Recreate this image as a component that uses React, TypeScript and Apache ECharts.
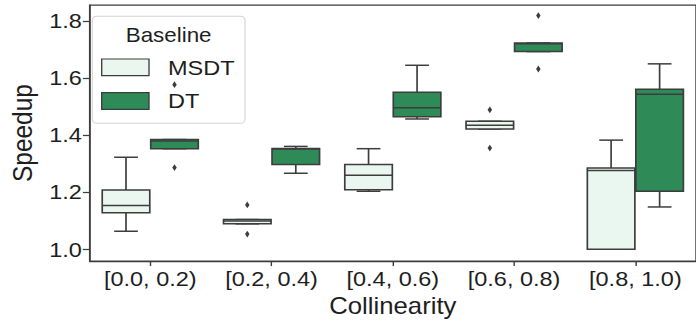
import React, { useEffect, useRef } from 'react';
import * as echarts from 'echarts';

// Collinearity bins on the x axis
const categories = ['[0.0, 0.2)', '[0.2, 0.4)', '[0.4, 0.6)', '[0.6, 0.8)', '[0.8, 1.0)'];
const seriesNames = ['MSDT', 'DT'];

// Five-number summaries per bin: [lower whisker, Q1, median, Q3, upper whisker]
const msdtBoxes = [
  [1.064, 1.129, 1.154, 1.208, 1.323],
  [1.090, 1.090, 1.100, 1.105, 1.105],
  [1.204, 1.209, 1.260, 1.298, 1.353],
  [1.422, 1.422, 1.435, 1.449, 1.449],
  [1.001, 1.001, 1.277, 1.285, 1.383],
];
const dtBoxes = [
  [1.353, 1.353, 1.380, 1.385, 1.385],
  [1.267, 1.298, 1.352, 1.354, 1.361],
  [1.457, 1.465, 1.496, 1.551, 1.645],
  [1.693, 1.693, 1.720, 1.723, 1.723],
  [1.149, 1.204, 1.544, 1.561, 1.650],
];

// Outliers: [bin index, speedup]
const msdtOutliers = [
  [1, 1.156],
  [1, 1.054],
  [3, 1.489],
  [3, 1.355],
];
const dtOutliers = [
  [0, 1.287],
  [0, 1.577],
  [3, 1.819],
  [3, 1.632],
];

const yTicks = [1.0, 1.2, 1.4, 1.6, 1.8];
const yMin = 0.9595;
const yMax = 1.856;

const FONT = '"Liberation Sans", Arial, Helvetica, sans-serif';
const EDGE = '#3d3d3d';
const TEXT = '#1e1e1e';
const MSDT_FILL = '#eaf7f1';
const DT_FILL = '#2e8b57';

// The figure is laid out on a narrower canvas and widened horizontally.
const INNER_W = 622;
const STRETCH = 696 / INNER_W;
const H = 322;
const BOX_FRAC = 0.4 * 0.98;

function boxRenderer(shift: number, fill: string) {
  return (_params: any, api: any) => {
    const cat = api.value(0);
    const band = api.size([1, 0])[0];
    const cx = api.coord([cat, yMin])[0] + shift * band;
    const y = (i: number) => api.coord([cat, api.value(i)])[1];
    const yLo = y(1);
    const yQ1 = y(2);
    const yMed = y(3);
    const yQ3 = y(4);
    const yHi = y(5);
    const hw = (band * BOX_FRAC) / 2;
    const cw = hw / 2;
    const ls = { stroke: EDGE, lineWidth: 1.5 };
    return {
      type: 'group',
      children: [
        { type: 'line', shape: { x1: cx, y1: yQ1, x2: cx, y2: yLo }, style: ls },
        { type: 'line', shape: { x1: cx, y1: yQ3, x2: cx, y2: yHi }, style: ls },
        { type: 'line', shape: { x1: cx - cw, y1: yLo, x2: cx + cw, y2: yLo }, style: ls },
        { type: 'line', shape: { x1: cx - cw, y1: yHi, x2: cx + cw, y2: yHi }, style: ls },
        {
          type: 'rect',
          shape: { x: cx - hw, y: yQ3, width: 2 * hw, height: yQ1 - yQ3 },
          style: { fill, stroke: EDGE, lineWidth: 1.5 },
        },
        { type: 'line', shape: { x1: cx - hw, y1: yMed, x2: cx + hw, y2: yMed }, style: ls },
      ],
    };
  };
}

function outlierRenderer(shift: number) {
  return (_params: any, api: any) => {
    const cat = api.value(0);
    const band = api.size([1, 0])[0];
    const pt = api.coord([cat, api.value(1)]);
    const cx = pt[0] + shift * band;
    const cy = pt[1];
    return {
      type: 'polygon',
      shape: {
        points: [
          [cx, cy - 3.4],
          [cx + 2, cy],
          [cx, cy + 3.4],
          [cx - 2, cy],
        ],
      },
      style: { fill: EDGE },
    };
  };
}

const toInner = (px: number) => px / STRETCH;

export default function App() {
  const ref = useRef<HTMLDivElement>(null);

  useEffect(() => {
    if (!ref.current) return;
    const chart = echarts.init(ref.current, undefined, { renderer: 'svg' });

    const boxData = (rows: number[][]) => rows.map((r, i) => [i, ...r]);

    const legendLeft = toInner(92.3);
    const legendRight = toInner(245);
    const patchX = toInner(101.7);
    const patchW = toInner(149) - patchX;
    const labelX = toInner(168);

    chart.setOption({
      animation: false,
      backgroundColor: '#ffffff',
      textStyle: { fontFamily: FONT },
      grid: {
        left: toInner(80),
        right: INNER_W - toInner(703.5),
        top: 5,
        bottom: H - 264,
        show: true,
        borderColor: EDGE,
        borderWidth: 1.25,
        backgroundColor: 'transparent',
      },
      xAxis: {
        type: 'category',
        data: categories,
        boundaryGap: true,
        name: 'Collinearity',
        nameLocation: 'middle',
        nameGap: 31.5,
        nameTextStyle: { fontSize: 23, color: TEXT, fontFamily: FONT },
        axisLine: { show: true, lineStyle: { color: EDGE, width: 1.25 } },
        axisTick: { show: true, alignWithLabel: true, length: 5, lineStyle: { color: EDGE, width: 1.25 } },
        axisLabel: { fontSize: 21, color: TEXT, margin: 7, fontFamily: FONT },
        splitLine: { show: false },
      },
      yAxis: {
        type: 'value',
        min: yMin,
        max: yMax,
        name: 'Speedup',
        nameLocation: 'middle',
        nameGap: 39.5,
        nameRotate: 90,
        nameTextStyle: { fontSize: 24.5, color: TEXT, fontFamily: FONT },
        axisLine: { show: true, lineStyle: { color: EDGE, width: 1.25 } },
        axisTick: {
          show: true,
          length: 6,
          customValues: yTicks,
          lineStyle: { color: EDGE, width: 1.25 },
        },
        axisLabel: {
          fontSize: 21,
          color: TEXT,
          margin: 7,
          fontFamily: FONT,
          customValues: yTicks,
          formatter: (v: number) => v.toFixed(1),
        },
        splitLine: { show: false },
      },
      series: [
        {
          name: seriesNames[0],
          type: 'custom',
          renderItem: boxRenderer(-0.2, MSDT_FILL),
          encode: { x: 0, y: [1, 2, 3, 4, 5] },
          data: boxData(msdtBoxes),
          z: 2,
        },
        {
          name: seriesNames[1],
          type: 'custom',
          renderItem: boxRenderer(0.2, DT_FILL),
          encode: { x: 0, y: [1, 2, 3, 4, 5] },
          data: boxData(dtBoxes),
          z: 2,
        },
        {
          name: seriesNames[0] + ' outliers',
          type: 'custom',
          renderItem: outlierRenderer(-0.2),
          encode: { x: 0, y: 1 },
          data: msdtOutliers,
          z: 3,
        },
        {
          name: seriesNames[1] + ' outliers',
          type: 'custom',
          renderItem: outlierRenderer(0.2),
          encode: { x: 0, y: 1 },
          data: dtOutliers,
          z: 3,
        },
      ],
      graphic: [
        {
          type: 'group',
          z: 100,
          children: [
            {
              type: 'rect',
              shape: { x: legendLeft, y: 16.3, width: legendRight - legendLeft, height: 107, r: 4 },
              style: { fill: 'rgba(255,255,255,0.8)', stroke: '#d4d4d4', lineWidth: 1 },
            },
            {
              type: 'text',
              style: {
                text: 'Baseline',
                x: (legendLeft + legendRight) / 2,
                y: 35,
                fontSize: 20,
                fontFamily: FONT,
                fill: TEXT,
                align: 'center',
                verticalAlign: 'middle',
              },
            },
            {
              type: 'rect',
              shape: { x: patchX, y: 59, width: patchW, height: 16.7 },
              style: { fill: MSDT_FILL, stroke: EDGE, lineWidth: 1.2 },
            },
            {
              type: 'rect',
              shape: { x: patchX, y: 92.7, width: patchW, height: 16.7 },
              style: { fill: DT_FILL, stroke: EDGE, lineWidth: 1.2 },
            },
            {
              type: 'text',
              style: {
                text: seriesNames[0],
                x: labelX,
                y: 68,
                fontSize: 21,
                fontFamily: FONT,
                fill: TEXT,
                align: 'left',
                verticalAlign: 'middle',
              },
            },
            {
              type: 'text',
              style: {
                text: seriesNames[1],
                x: labelX,
                y: 101,
                fontSize: 21,
                fontFamily: FONT,
                fill: TEXT,
                align: 'left',
                verticalAlign: 'middle',
              },
            },
          ],
        },
      ],
    });

    return () => chart.dispose();
  }, []);

  return (
    <div
      style={{
        position: 'fixed',
        left: 0,
        top: 0,
        width: 696,
        height: H,
        overflow: 'hidden',
        background: '#ffffff',
      }}
    >
      <div
        ref={ref}
        style={{
          width: INNER_W,
          height: H,
          transform: `scaleX(${STRETCH})`,
          transformOrigin: '0 0',
        }}
      />
    </div>
  );
}
